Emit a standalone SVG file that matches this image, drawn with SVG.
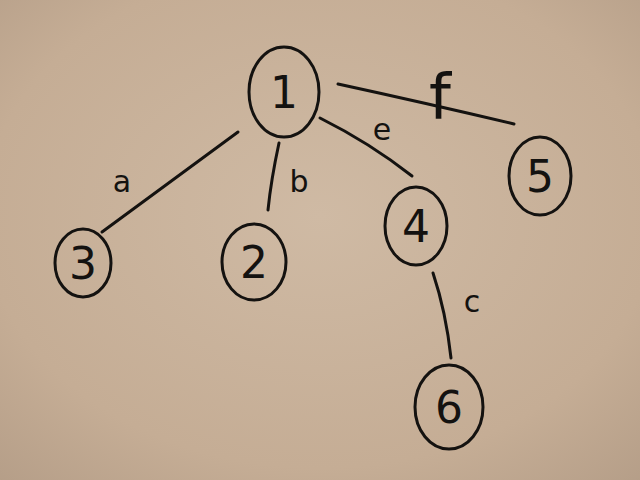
<svg xmlns="http://www.w3.org/2000/svg" width="640" height="480" viewBox="0 0 640 480">
<defs>
<radialGradient id="bg" cx="0.5" cy="0.45" r="0.75">
<stop offset="0" stop-color="#cfbaa4"/>
<stop offset="0.7" stop-color="#c5ad95"/>
<stop offset="1" stop-color="#b59e88"/>
</radialGradient>
<style>
.n{fill:none;stroke:#141210;stroke-width:3}
.e{fill:none;stroke:#141210;stroke-width:3;stroke-linecap:round}
.t{font-family:"DejaVu Sans",sans-serif;fill:#141210;text-anchor:middle}
.d{font-size:44px}
.l{font-size:30px}
</style>
</defs>
<rect width="640" height="480" fill="url(#bg)"/>
<g id="edges">
<path class="e" d="M338,84 Q430,104 514,124"/>
<path class="e" d="M238,132 L102,232"/>
<path class="e" d="M279,143 Q271,180 268,210"/>
<path class="e" d="M320,118 Q370,143 412,176"/>
<path class="e" d="M433,273 Q446,312 451,358"/>
<text class="t" style="font-size:62px" x="440" y="118">f</text>
<text class="t l" x="122" y="192">a</text>
<text class="t l" x="299" y="192">b</text>
<text class="t l" x="382" y="140">e</text>
<text class="t l" x="472" y="312">c</text>
</g>
<g id="node1"><ellipse class="n" cx="284" cy="92" rx="35" ry="45"/><text class="t d" x="284" y="108">1</text></g>
<g id="node2"><ellipse class="n" cx="254" cy="262" rx="32" ry="38"/><text class="t d" x="254" y="278">2</text></g>
<g id="node3"><ellipse class="n" cx="83" cy="263" rx="28" ry="34"/><text class="t d" x="83" y="279">3</text></g>
<g id="node4"><ellipse class="n" cx="416" cy="226" rx="31" ry="39"/><text class="t d" x="416" y="242">4</text></g>
<g id="node5"><ellipse class="n" cx="540" cy="176" rx="31" ry="39"/><text class="t d" x="540" y="192">5</text></g>
<g id="node6"><ellipse class="n" cx="449" cy="407" rx="34" ry="42"/><text class="t d" x="449" y="423">6</text></g>
</svg>
